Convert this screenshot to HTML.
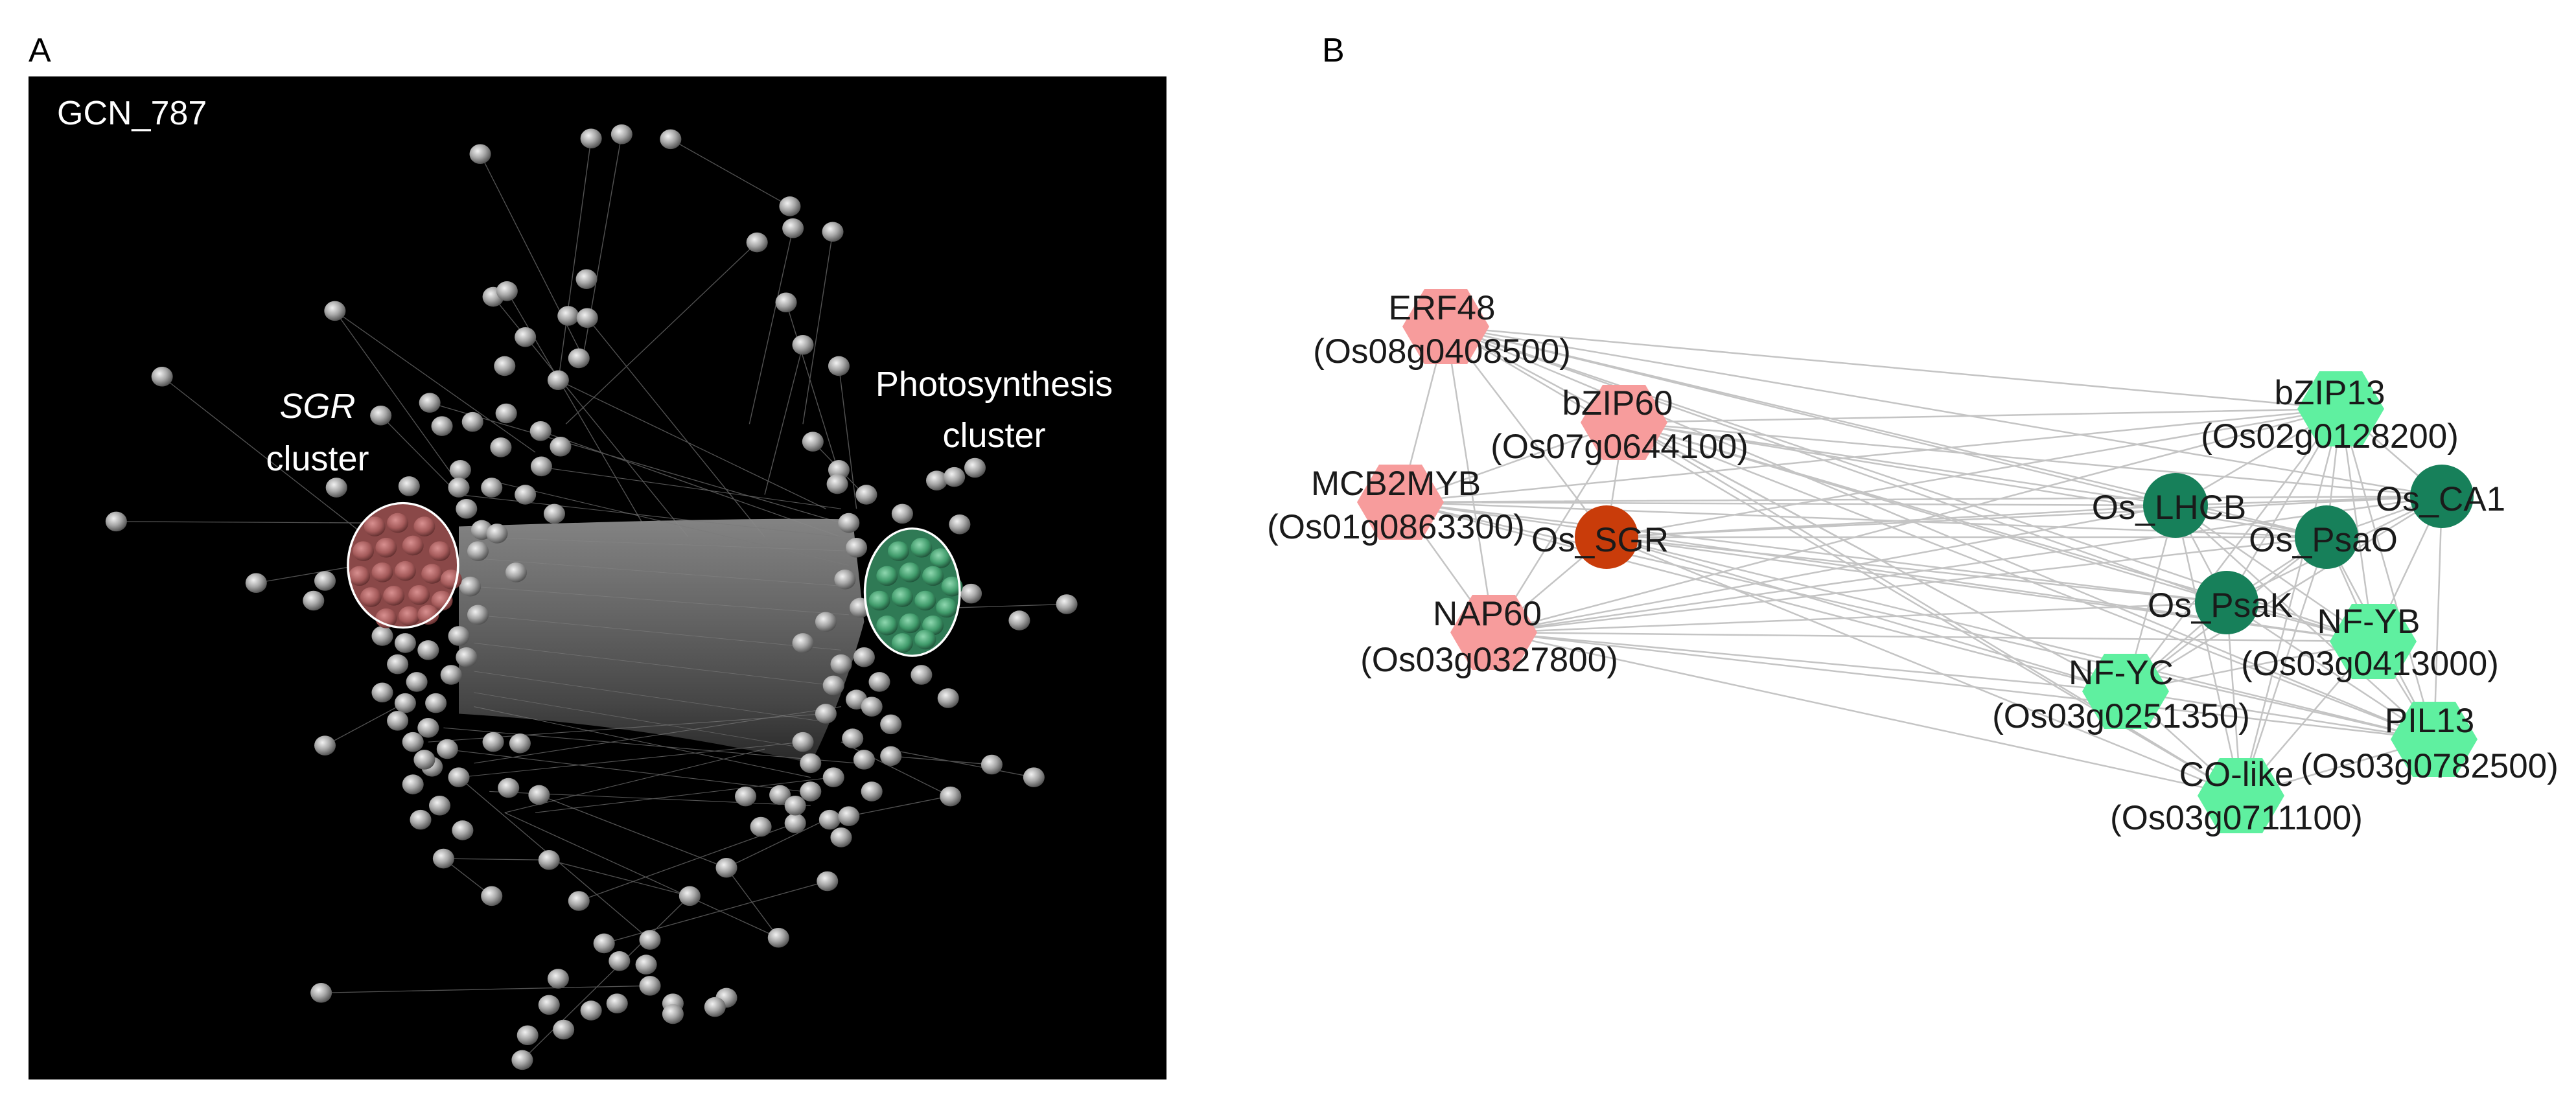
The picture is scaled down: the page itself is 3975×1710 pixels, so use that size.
<!DOCTYPE html>
<html><head><meta charset="utf-8"><style>html,body{margin:0;padding:0;background:#fff}svg{display:block}</style></head>
<body>
<svg width="3975" height="1710" viewBox="0 0 3975 1710" xmlns="http://www.w3.org/2000/svg">
<defs>
<radialGradient id="ball" cx="0.38" cy="0.35" r="0.7">
<stop offset="0" stop-color="#f2f2f2"/><stop offset="0.5" stop-color="#a8a8a8"/><stop offset="1" stop-color="#4a4a4a"/></radialGradient>
<radialGradient id="rball" cx="0.4" cy="0.35" r="0.7">
<stop offset="0" stop-color="#d89090"/><stop offset="0.6" stop-color="#a45a5a"/><stop offset="1" stop-color="#5a2a2a"/></radialGradient>
<radialGradient id="gball" cx="0.4" cy="0.35" r="0.7">
<stop offset="0" stop-color="#8fd8b0"/><stop offset="0.6" stop-color="#3f9a6a"/><stop offset="1" stop-color="#1c4a34"/></radialGradient>
<linearGradient id="band" x1="0" y1="0" x2="0" y2="1">
<stop offset="0" stop-color="#8a8a8a"/><stop offset="0.35" stop-color="#6e6e6e"/><stop offset="0.75" stop-color="#4a4a4a"/><stop offset="1" stop-color="#2a2a2a"/></linearGradient>
</defs>
<text x="44" y="95" font-family="Liberation Sans, sans-serif" font-size="52" fill="#000">A</text>
<text x="2040" y="95" font-family="Liberation Sans, sans-serif" font-size="52" fill="#000">B</text>
<rect x="44" y="118" width="1756" height="1548" fill="#000"/>
<g transform="matrix(1.18 0 0 1.0906 0 0)">
<g stroke="#666" stroke-width="1.2" opacity="0.8" fill="none">
<path d="M628 218 L760 500 M773 196 L730 540 M877 197 L1033 292 M990 343 L740 600 M438 440 L700 640 M212 533 L480 760 M152 738 L480 740 M335 825 L470 800 M1028 428 L1100 680 M1097 518 L1120 720 M1050 488 L1000 700 M1395 855 L1250 860 M1352 1100 L1160 1060 M1243 1127 L1100 1050 M420 1405 L850 1395 M683 1500 L900 1270 M757 1275 L1040 1165 M643 1268 L580 1215 M950 1228 L1080 1160 M1018 1327 L950 1228 M425 1055 L520 1000 M580 1215 L718 1217 L902 1268 M790 1335 L1082 1247 M663 412 L840 740 M768 450 L1000 760 M707 610 L1100 760 M813 190 L760 520 M645 420 L900 760 M1089 328 L1050 600 M1037 323 L980 600 M438 440 L610 700 M562 570 L1100 740 M498 588 L600 700 M730 538 L1080 720 M1063 625 L1130 700 M660 1150 L1018 1327 M705 1125 L950 1228 M600 1100 L850 1330 M1110 1155 L1240 1127 M1165 1070 L1297 1082"/>
</g>
<path d="M600 745 C800 738 1000 732 1115 735 L1130 880 C1110 960 1080 1040 1060 1080 C900 1040 750 1020 600 1010 Z" fill="url(#band)" opacity="0.95"/>
<g stroke="#7a7a7a" stroke-width="1" fill="none" opacity="0.7">
<path d="M600 700 L1100 760 M640 680 L1110 800 M700 660 L1100 720 M620 1000 L1060 1100 M560 1050 L1080 1010 M600 1100 L1050 1050 M660 1150 L1000 1060 M580 1030 L1120 1080 M580 1060 L1050 1120 M620 1080 L1100 1000 M640 1120 L1060 1140 M700 1150 L1090 1100"/>
</g>
<g stroke="#8a8a8a" stroke-width="0.8" fill="none" opacity="0.5">
<path d="M620 760 L1120 780 M620 790 L1110 830 M620 830 L1110 870 M620 870 L1100 920 M620 910 L1090 970 M620 950 L1070 1020 M620 980 L1060 1060"/>
</g>
<g fill="url(#ball)">
<circle cx="628" cy="218" r="14"/><circle cx="773" cy="196" r="14"/><circle cx="813" cy="190" r="14"/><circle cx="877" cy="197" r="14"/><circle cx="1033" cy="292" r="14"/><circle cx="1037" cy="323" r="14"/><circle cx="1089" cy="328" r="14"/><circle cx="990" cy="343" r="14"/><circle cx="767" cy="395" r="14"/><circle cx="645" cy="420" r="14"/><circle cx="663" cy="412" r="14"/><circle cx="438" cy="440" r="14"/><circle cx="743" cy="447" r="14"/><circle cx="768" cy="450" r="14"/><circle cx="1028" cy="428" r="14"/><circle cx="687" cy="477" r="14"/><circle cx="757" cy="507" r="14"/><circle cx="1050" cy="488" r="14"/><circle cx="1097" cy="518" r="14"/><circle cx="660" cy="518" r="14"/><circle cx="730" cy="538" r="14"/><circle cx="212" cy="533" r="14"/><circle cx="562" cy="570" r="14"/><circle cx="498" cy="588" r="14"/><circle cx="578" cy="603" r="14"/><circle cx="618" cy="597" r="14"/><circle cx="662" cy="585" r="14"/><circle cx="707" cy="610" r="14"/><circle cx="655" cy="633" r="14"/><circle cx="733" cy="632" r="14"/><circle cx="1063" cy="625" r="14"/><circle cx="708" cy="660" r="14"/><circle cx="602" cy="665" r="14"/><circle cx="1097" cy="665" r="14"/><circle cx="1095" cy="685" r="14"/><circle cx="1225" cy="680" r="14"/><circle cx="1248" cy="675" r="14"/><circle cx="1275" cy="662" r="14"/><circle cx="440" cy="690" r="14"/><circle cx="535" cy="688" r="14"/><circle cx="600" cy="690" r="14"/><circle cx="643" cy="690" r="14"/><circle cx="687" cy="700" r="14"/><circle cx="725" cy="727" r="14"/><circle cx="152" cy="738" r="14"/><circle cx="1133" cy="700" r="14"/><circle cx="1180" cy="727" r="14"/><circle cx="1255" cy="742" r="14"/><circle cx="630" cy="750" r="14"/><circle cx="650" cy="755" r="14"/><circle cx="675" cy="810" r="14"/><circle cx="335" cy="825" r="14"/><circle cx="425" cy="822" r="14"/><circle cx="410" cy="850" r="14"/><circle cx="1270" cy="840" r="14"/><circle cx="1395" cy="855" r="14"/><circle cx="1333" cy="878" r="14"/><circle cx="500" cy="900" r="14"/><circle cx="530" cy="910" r="14"/><circle cx="560" cy="920" r="14"/><circle cx="600" cy="900" r="14"/><circle cx="625" cy="870" r="14"/><circle cx="1050" cy="910" r="14"/><circle cx="1080" cy="880" r="14"/><circle cx="1205" cy="955" r="14"/><circle cx="1240" cy="988" r="14"/><circle cx="500" cy="980" r="14"/><circle cx="530" cy="995" r="14"/><circle cx="570" cy="995" r="14"/><circle cx="425" cy="1055" r="14"/><circle cx="540" cy="1050" r="14"/><circle cx="560" cy="1030" r="14"/><circle cx="645" cy="1050" r="14"/><circle cx="680" cy="1052" r="14"/><circle cx="1050" cy="1050" r="14"/><circle cx="1080" cy="1010" r="14"/><circle cx="1115" cy="1045" r="14"/><circle cx="1165" cy="1025" r="14"/><circle cx="1130" cy="1075" r="14"/><circle cx="1165" cy="1070" r="14"/><circle cx="1297" cy="1082" r="14"/><circle cx="1352" cy="1100" r="14"/><circle cx="1243" cy="1127" r="14"/><circle cx="565" cy="1085" r="14"/><circle cx="600" cy="1100" r="14"/><circle cx="540" cy="1110" r="14"/><circle cx="665" cy="1115" r="14"/><circle cx="705" cy="1125" r="14"/><circle cx="975" cy="1127" r="14"/><circle cx="1020" cy="1125" r="14"/><circle cx="1060" cy="1120" r="14"/><circle cx="1090" cy="1100" r="14"/><circle cx="550" cy="1160" r="14"/><circle cx="575" cy="1140" r="14"/><circle cx="605" cy="1175" r="14"/><circle cx="995" cy="1170" r="14"/><circle cx="1040" cy="1165" r="14"/><circle cx="1085" cy="1160" r="14"/><circle cx="1110" cy="1155" r="14"/><circle cx="1100" cy="1185" r="14"/><circle cx="580" cy="1215" r="14"/><circle cx="718" cy="1217" r="14"/><circle cx="950" cy="1228" r="14"/><circle cx="1082" cy="1247" r="14"/><circle cx="643" cy="1268" r="14"/><circle cx="757" cy="1275" r="14"/><circle cx="902" cy="1268" r="14"/><circle cx="1018" cy="1327" r="14"/><circle cx="790" cy="1335" r="14"/><circle cx="850" cy="1330" r="14"/><circle cx="810" cy="1360" r="14"/><circle cx="845" cy="1365" r="14"/><circle cx="730" cy="1385" r="14"/><circle cx="850" cy="1395" r="14"/><circle cx="880" cy="1420" r="14"/><circle cx="420" cy="1405" r="14"/><circle cx="718" cy="1422" r="14"/><circle cx="773" cy="1430" r="14"/><circle cx="807" cy="1420" r="14"/><circle cx="950" cy="1412" r="14"/><circle cx="935" cy="1425" r="14"/><circle cx="690" cy="1465" r="14"/><circle cx="737" cy="1457" r="14"/><circle cx="683" cy="1500" r="14"/><circle cx="880" cy="1435" r="14"/>
<circle cx="610" cy="720" r="14"/><circle cx="625" cy="780" r="14"/><circle cx="615" cy="830" r="14"/><circle cx="520" cy="940" r="14"/><circle cx="545" cy="965" r="14"/><circle cx="590" cy="955" r="14"/><circle cx="610" cy="930" r="14"/><circle cx="520" cy="1020" r="14"/><circle cx="555" cy="1075" r="14"/><circle cx="585" cy="1060" r="14"/><circle cx="1110" cy="740" r="14"/><circle cx="1120" cy="775" r="14"/><circle cx="1105" cy="820" r="14"/><circle cx="1125" cy="860" r="14"/><circle cx="1100" cy="940" r="14"/><circle cx="1130" cy="930" r="14"/><circle cx="1150" cy="965" r="14"/><circle cx="1120" cy="990" r="14"/><circle cx="1090" cy="970" r="14"/><circle cx="1140" cy="1000" r="14"/><circle cx="1060" cy="1080" r="14"/><circle cx="1040" cy="1140" r="14"/><circle cx="1140" cy="1120" r="14"/>
</g>
<ellipse cx="527" cy="800" rx="72" ry="88" fill="#8a4848"/>
<g fill="url(#rball)">
<circle cx="490" cy="745" r="14"/><circle cx="520" cy="740" r="14"/><circle cx="555" cy="745" r="14"/><circle cx="475" cy="780" r="14"/><circle cx="505" cy="775" r="14"/><circle cx="540" cy="772" r="14"/><circle cx="575" cy="780" r="14"/><circle cx="470" cy="815" r="14"/><circle cx="500" cy="810" r="14"/><circle cx="530" cy="808" r="14"/><circle cx="565" cy="812" r="14"/><circle cx="590" cy="820" r="14"/><circle cx="485" cy="845" r="14"/><circle cx="515" cy="843" r="14"/><circle cx="548" cy="842" r="14"/><circle cx="578" cy="850" r="14"/><circle cx="505" cy="875" r="14"/><circle cx="535" cy="872" r="14"/><circle cx="560" cy="870" r="14"/>
</g>
<ellipse cx="527" cy="800" rx="72" ry="88" fill="none" stroke="#fff" stroke-width="3"/>
<ellipse cx="1193" cy="838" rx="62" ry="90" fill="#2f7a55"/>
<g fill="url(#gball)">
<circle cx="1175" cy="780" r="14"/><circle cx="1205" cy="775" r="14"/><circle cx="1230" cy="790" r="14"/><circle cx="1160" cy="815" r="14"/><circle cx="1190" cy="810" r="14"/><circle cx="1220" cy="815" r="14"/><circle cx="1245" cy="830" r="14"/><circle cx="1150" cy="850" r="14"/><circle cx="1180" cy="845" r="14"/><circle cx="1210" cy="850" r="14"/><circle cx="1238" cy="860" r="14"/><circle cx="1160" cy="885" r="14"/><circle cx="1190" cy="882" r="14"/><circle cx="1220" cy="885" r="14"/><circle cx="1180" cy="910" r="14"/><circle cx="1210" cy="905" r="14"/>
</g>
<ellipse cx="1193" cy="838" rx="62" ry="90" fill="none" stroke="#fff" stroke-width="3"/>
</g>
<g font-family="Liberation Sans, sans-serif" fill="#fff">
<text x="88" y="192" font-size="52">GCN_787</text>
<text x="490" y="645" font-size="54" font-style="italic" text-anchor="middle">SGR</text>
<text x="490" y="726" font-size="54" text-anchor="middle">cluster</text>
<text x="1534" y="611" font-size="54" text-anchor="middle">Photosynthesis</text>
<text x="1534" y="690" font-size="54" text-anchor="middle">cluster</text>
</g>
<g stroke="#c4c4c4" stroke-width="2.5" fill="none">
<path d="
M2231 504 L3612 631 M2231 504 L3357 780 M2231 504 L3768 766 M2231 504 L3590 829 M2231 504 L3436 930 M2231 504 L3662 990 M2231 504 L3280 1067 M2231 504 L3756 1141 M2231 504 L3458 1228
M2506 652 L3612 631 M2506 652 L3357 780 M2506 652 L3768 766 M2506 652 L3590 829 M2506 652 L3436 930 M2506 652 L3662 990 M2506 652 L3280 1067 M2506 652 L3756 1141 M2506 652 L3458 1228
M2161 775 L3612 631 M2161 775 L3357 780 M2161 775 L3768 766 M2161 775 L3590 829 M2161 775 L3436 930 M2161 775 L3662 990 M2161 775 L3280 1067 M2161 775 L3756 1141
M2479 829 L3612 631 M2479 829 L3357 780 M2479 829 L3768 766 M2479 829 L3590 829 M2479 829 L3436 930 M2479 829 L3662 990 M2479 829 L3280 1067 M2479 829 L3756 1141 M2479 829 L3458 1228
M2305 976 L3612 631 M2305 976 L3357 780 M2305 976 L3768 766 M2305 976 L3590 829 M2305 976 L3436 930 M2305 976 L3662 990 M2305 976 L3280 1067 M2305 976 L3756 1141 M2305 976 L3458 1228
M2231 504 L2161 775 M2231 504 L2305 976 M2231 504 L2479 829 M2161 775 L2506 652 M2506 652 L2479 829 M2506 652 L2305 976 M2161 775 L2305 976 M2305 976 L2479 829
M3612 631 L3357 780 M3612 631 L3768 766 M3612 631 L3590 829 M3612 631 L3436 930 M3612 631 L3662 990 M3612 631 L3280 1067 M3612 631 L3756 1141 M3612 631 L3458 1228
M3357 780 L3768 766 M3357 780 L3590 829 M3357 780 L3436 930 M3357 780 L3662 990 M3357 780 L3280 1067 M3357 780 L3756 1141 M3357 780 L3458 1228
M3768 766 L3590 829 M3768 766 L3436 930 M3768 766 L3662 990 M3768 766 L3756 1141 M3768 766 L3280 1067
M3590 829 L3436 930 M3590 829 L3662 990 M3590 829 L3280 1067 M3590 829 L3756 1141 M3590 829 L3458 1228
M3436 930 L3662 990 M3436 930 L3280 1067 M3436 930 L3756 1141 M3436 930 L3458 1228
M3662 990 L3280 1067 M3662 990 L3756 1141 M3662 990 L3458 1228 M3280 1067 L3458 1228 M3280 1067 L3756 1141 M3458 1228 L3756 1141"/>
</g>
<g fill="#f79c9c">
<polygon points="2298,504 2264,562 2198,562 2164,504 2198,446 2264,446"/>
<polygon points="2573,652 2539,710 2473,710 2439,652 2473,594 2539,594"/>
<polygon points="2228,775 2194,833 2128,833 2094,775 2128,717 2194,717"/>
<polygon points="2372,976 2338,1034 2272,1034 2238,976 2272,918 2338,918"/>
</g>
<circle cx="2479" cy="829" r="49" fill="#c93c0a"/>
<g fill="#5ff0a0">
<polygon points="3679,631 3645,689 3579,689 3545,631 3579,573 3645,573"/>
<polygon points="3729,990 3695,1048 3629,1048 3595,990 3629,932 3695,932"/>
<polygon points="3347,1067 3313,1125 3247,1125 3213,1067 3247,1009 3313,1009"/>
<polygon points="3823,1141 3789,1199 3723,1199 3689,1141 3723,1083 3789,1083"/>
<polygon points="3525,1228 3491,1286 3425,1286 3391,1228 3425,1170 3491,1170"/>
</g>
<g fill="#17805a">
<circle cx="3357" cy="780" r="50"/><circle cx="3768" cy="766" r="49"/><circle cx="3590" cy="829" r="49"/><circle cx="3436" cy="930" r="49"/>
</g>
<g font-family="Liberation Sans, sans-serif" font-size="53" fill="#1a1a1a" text-anchor="middle">
<text x="2225" y="493">ERF48</text><text x="2225" y="560">(Os08g0408500)</text>
<text x="2496" y="640">bZIP60</text><text x="2499" y="707">(Os07g0644100)</text>
<text x="2154" y="764">MCB2MYB</text><text x="2154" y="831">(Os01g0863300)</text>
<text x="2469" y="851">Os_SGR</text>
<text x="2295" y="965">NAP60</text><text x="2298" y="1036">(Os03g0327800)</text>
<text x="3595" y="624">bZIP13</text><text x="3595" y="691">(Os02g0128200)</text>
<text x="3347" y="801">Os_LHCB</text>
<text x="3766" y="788">Os_CA1</text>
<text x="3585" y="851">Os_PsaO</text>
<text x="3426" y="952">Os_PsaK</text>
<text x="3655" y="977">NF-YB</text><text x="3657" y="1042">(Os03g0413000)</text>
<text x="3273" y="1056">NF-YC</text><text x="3273" y="1123">(Os03g0251350)</text>
<text x="3749" y="1130">PIL13</text><text x="3749" y="1200">(Os03g0782500)</text>
<text x="3451" y="1213">CO-like</text><text x="3451" y="1280">(Os03g0711100)</text>
</g>
</svg>
</body></html>
